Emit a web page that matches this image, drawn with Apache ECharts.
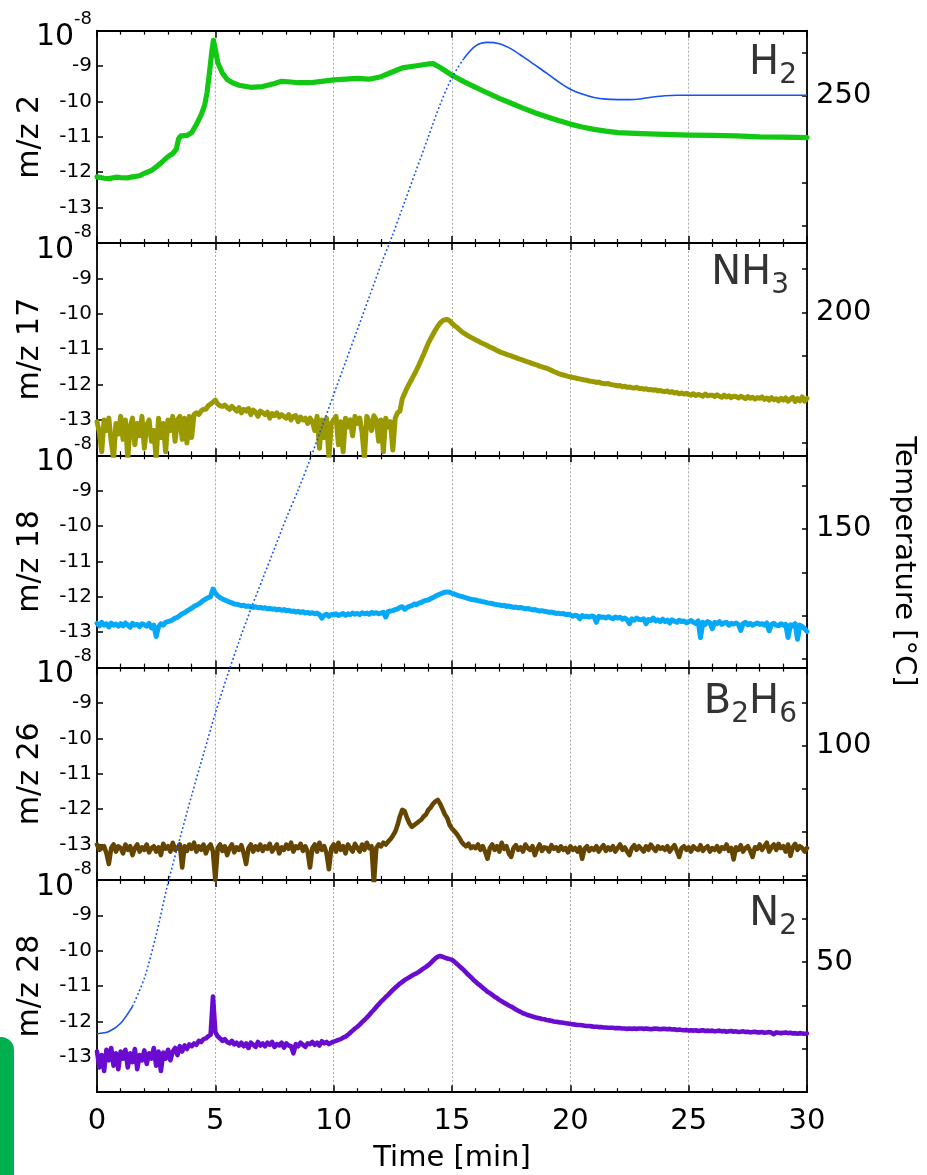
<!DOCTYPE html>
<html>
<head>
<meta charset="utf-8">
<title>TPD mass spectra</title>
<script src="https://cdn.jsdelivr.net/npm/echarts@6/dist/echarts.min.js"></script>
<style>
  html, body { margin: 0; padding: 0; background: #fff; }
  #chart { width: 927px; height: 1175px; }
</style>
</head>
<body>
<div id="chart"></div>
<script>
// Ion currents are stored as log10 of the signal; traces sampled every 0.1 min from t = 0.
const TIME_STEP = 0.1;

// m/z 2 (H2): [time in min, log10 signal]
const mz2 = [
  [0, -12.13], [0.3, -12.17], [0.5, -12.18], [0.8, -12.14], [1.0, -12.15], [1.3, -12.16], [1.5, -12.13],
  [1.8, -12.1], [2.0, -12.03], [2.3, -11.95], [2.5, -11.85], [2.8, -11.68], [3.0, -11.56], [3.2, -11.47],
  [3.35, -11.35], [3.45, -11.05], [3.55, -10.97], [3.8, -10.96], [4.0, -10.88], [4.2, -10.65], [4.4, -10.38],
  [4.55, -10.1], [4.65, -9.75], [4.75, -9.2], [4.85, -8.6], [4.92, -8.27], [4.97, -8.3], [5.02, -8.6],
  [5.1, -8.9], [5.3, -9.2], [5.5, -9.38], [5.75, -9.48], [6.0, -9.54], [6.5, -9.6], [7.0, -9.58],
  [7.5, -9.49], [7.8, -9.43], [8.2, -9.45], [8.5, -9.47], [9.0, -9.47], [9.5, -9.43], [10.0, -9.39],
  [10.5, -9.37], [11.0, -9.35], [11.5, -9.37], [12.0, -9.3], [12.5, -9.16], [12.9, -9.05], [13.5, -8.99],
  [14.0, -8.94], [14.2, -8.93], [14.5, -9.04], [15.0, -9.26], [15.5, -9.44], [16.0, -9.6], [16.5, -9.76],
  [17.0, -9.91], [17.5, -10.05], [18.0, -10.19], [18.5, -10.32], [19.0, -10.43], [19.5, -10.54],
  [20.0, -10.64], [20.5, -10.72], [21.0, -10.79], [21.5, -10.84], [22.0, -10.88], [23.0, -10.91],
  [24.0, -10.93], [25.0, -10.95], [26.0, -10.96], [27.0, -10.97], [28.0, -11.0], [29.0, -11.01], [30.0, -11.02]
];

// m/z 17 (NH3)
const mz17 = [
  -13.05, -13.35, -13.9, -13.0, -13.3, -12.95, -13.6, -14.1, -13.1, -13.4,
  -12.9, -13.55, -13.0, -14.1, -13.2, -12.95, -13.7, -13.1, -13.45, -12.9,
  -13.8, -13.15, -13.0, -13.6, -13.3, -14.1, -12.95, -13.5, -13.1, -13.9,
  -13.0, -13.3, -12.9, -13.6, -13.0, -12.9, -13.55, -12.95, -13.65, -12.9,
  -13.5, -12.85, -12.8, -12.85, -12.75, -12.7, -12.7, -12.6, -12.55, -12.5,
  -12.44, -12.55, -12.6, -12.62, -12.58, -12.65, -12.7, -12.62, -12.68, -12.75,
  -12.65, -12.8, -12.7, -12.75, -12.68, -12.85, -12.72, -12.78, -12.9, -12.75,
  -12.8, -12.85, -12.78, -12.95, -12.82, -12.88, -12.8, -12.92, -12.85, -12.9,
  -12.95, -12.85, -13.0, -12.9, -12.88, -13.05, -12.92, -13.0, -12.95, -13.1,
  -12.95, -13.05, -13.3, -12.9, -13.8, -13.0, -13.5, -12.95, -14.1, -13.1,
  -13.0, -12.9, -13.7, -13.05, -13.9, -12.95, -13.2, -13.0, -13.45, -12.9,
  -13.1, -12.95, -13.35, -14.1, -12.9, -13.05, -13.3, -12.88, -13.0, -13.6,
  -13.0, -13.9, -12.95, -13.2, -13.05, -13.85, -12.95, -12.8, -12.75, -12.4,
  -12.25, -12.1, -11.97, -11.85, -11.72, -11.59, -11.45, -11.3, -11.15, -10.99,
  -10.83, -10.7, -10.58, -10.46, -10.35, -10.26, -10.2, -10.17, -10.16, -10.2,
  -10.27, -10.33, -10.38, -10.44, -10.5, -10.55, -10.59, -10.63, -10.67, -10.7,
  -10.74, -10.77, -10.81, -10.84, -10.87, -10.9, -10.94, -10.97, -11.0, -11.04,
  -11.07, -11.1, -11.12, -11.15, -11.17, -11.19, -11.22, -11.24, -11.27, -11.29,
  -11.31, -11.34, -11.36, -11.38, -11.41, -11.43, -11.45, -11.48, -11.5, -11.52,
  -11.54, -11.57, -11.6, -11.63, -11.66, -11.69, -11.71, -11.73, -11.75, -11.77,
  -11.78, -11.8, -11.81, -11.83, -11.84, -11.86, -11.87, -11.88, -11.9, -11.91,
  -11.92, -11.94, -11.93, -11.96, -11.97, -11.98, -11.97, -12.0, -12.01, -12.02,
  -12.04, -12.03, -12.06, -12.05, -12.08, -12.07, -12.09, -12.1, -12.08, -12.11,
  -12.11, -12.13, -12.12, -12.15, -12.14, -12.16, -12.15, -12.18, -12.17, -12.19,
  -12.2, -12.18, -12.22, -12.2, -12.24, -12.22, -12.26, -12.24, -12.27, -12.25,
  -12.28, -12.3, -12.26, -12.31, -12.28, -12.3, -12.33, -12.27, -12.32, -12.3,
  -12.3, -12.34, -12.29, -12.33, -12.36, -12.3, -12.35, -12.32, -12.37, -12.33,
  -12.34, -12.38, -12.33, -12.36, -12.4, -12.34, -12.39, -12.36, -12.41, -12.37,
  -12.39, -12.35, -12.42, -12.38, -12.44, -12.37, -12.43, -12.4, -12.46, -12.39,
  -12.44, -12.38, -12.47, -12.41, -12.36, -12.48, -12.4, -12.46, -12.35, -12.47,
  -12.39
];

// m/z 18 (H2O)
const mz18 = [
  -12.75, -12.82, -12.72, -12.8, -12.76, -12.85, -12.74, -12.8, -12.77, -12.83,
  -12.76, -12.82, -12.74, -12.8, -12.86, -12.75, -12.8, -12.78, -12.84, -12.76,
  -12.79, -12.83, -12.75, -12.88, -12.8, -13.12, -12.85, -12.76, -12.8, -12.72,
  -12.7, -12.68, -12.65, -12.6, -12.58, -12.53, -12.48, -12.45, -12.4, -12.36,
  -12.32, -12.27, -12.24, -12.2, -12.15, -12.1, -12.06, -12.02, -12.0, -11.78,
  -11.9, -11.97, -12.02, -12.06, -12.09, -12.12, -12.15, -12.17, -12.2, -12.21,
  -12.23, -12.25, -12.24, -12.27, -12.26, -12.28, -12.3, -12.28, -12.31, -12.3,
  -12.32, -12.31, -12.34, -12.33, -12.35, -12.34, -12.37, -12.35, -12.38, -12.36,
  -12.39, -12.38, -12.41, -12.4, -12.43, -12.41, -12.44, -12.42, -12.46, -12.44,
  -12.47, -12.45, -12.48, -12.46, -12.5, -12.6, -12.52, -12.49, -12.55, -12.5,
  -12.51, -12.48, -12.53, -12.5, -12.47, -12.52, -12.48, -12.5, -12.46, -12.49,
  -12.47, -12.5, -12.45, -12.48, -12.46, -12.49, -12.44, -12.47, -12.45, -12.48,
  -12.46, -12.44, -12.57, -12.42, -12.4, -12.39, -12.36, -12.34, -12.3, -12.28,
  -12.35, -12.3, -12.27, -12.25, -12.2, -12.22, -12.18, -12.16, -12.12, -12.1,
  -12.09, -12.05, -12.02, -11.98, -11.95, -11.92, -11.89, -11.87, -11.86, -11.87,
  -11.9, -11.92, -11.95, -11.97, -11.99, -12.01, -12.03, -12.05, -12.07, -12.08,
  -12.09, -12.11, -12.12, -12.14, -12.15, -12.17, -12.18, -12.19, -12.21, -12.22,
  -12.23, -12.25, -12.24, -12.27, -12.26, -12.28, -12.3, -12.29, -12.31, -12.3,
  -12.32, -12.34, -12.33, -12.35, -12.37, -12.36, -12.38, -12.4, -12.39, -12.41,
  -12.42, -12.44, -12.43, -12.45, -12.47, -12.46, -12.48, -12.47, -12.5, -12.49,
  -12.51, -12.55, -12.52, -12.54, -12.62, -12.53, -12.56, -12.55, -12.57, -12.54,
  -12.56, -12.72, -12.55, -12.58, -12.57, -12.6, -12.56, -12.59, -12.62, -12.57,
  -12.6, -12.58, -12.63, -12.6, -12.65, -12.76, -12.62, -12.66, -12.6, -12.64,
  -12.65, -12.62, -12.76, -12.64, -12.67, -12.6, -12.68, -12.65, -12.7, -12.63,
  -12.7, -12.66, -12.74, -12.65, -12.69, -12.72, -12.66, -12.7, -12.68, -12.73,
  -12.7, -12.67, -12.72, -12.75, -12.68, -13.15, -12.72, -12.78, -12.7, -12.74,
  -12.9, -12.72, -12.76, -12.7, -12.78, -12.74, -12.72, -12.8, -12.75, -12.77,
  -12.74, -12.78, -12.95, -12.76, -12.72, -12.79, -12.75, -12.8, -12.77, -12.74,
  -12.78, -12.76, -12.8, -12.74, -12.96, -12.78, -12.75, -12.8, -12.82, -12.76,
  -12.8, -12.78, -13.15, -12.79, -12.82, -12.76, -13.2, -12.8, -12.84, -12.9,
  -12.98
];

// m/z 26 (B2H6)
const mz26 = [
  -13.0, -13.15, -13.1, -13.05, -13.25, -13.55, -13.1, -13.0, -13.2, -13.05,
  -13.1, -13.25, -13.0, -13.15, -13.05, -13.3, -13.1, -13.0, -13.2, -13.08,
  -13.15, -13.0, -13.22, -13.1, -13.05, -13.2, -13.08, -13.3, -12.98, -13.12,
  -13.05, -13.2, -12.95, -13.15, -13.1, -13.0, -13.65, -13.05, -13.18, -13.0,
  -13.12, -12.95, -13.2, -13.05, -13.15, -13.0, -13.25, -13.08, -13.0, -13.2,
  -14.0, -13.1, -13.0, -13.18, -13.05, -13.3, -13.1, -13.0, -13.22, -13.08,
  -13.15, -13.02, -13.25, -13.55, -13.1, -13.0, -13.2, -13.05, -13.15, -13.0,
  -13.18, -13.05, -13.12, -12.98, -13.2, -13.1, -13.0, -13.25, -13.08, -13.15,
  -13.0, -13.12, -12.95, -13.2, -13.05, -13.1, -12.98, -13.18, -13.05, -13.2,
  -13.65, -13.1, -13.0, -13.2, -12.95, -13.15, -13.05, -13.25, -13.7, -13.1,
  -13.0, -13.2, -12.95, -13.15, -13.05, -13.25, -13.0, -13.1, -13.2, -12.98,
  -13.1, -13.2, -13.0, -13.15, -12.95, -13.1, -13.05, -14.1, -13.1, -13.0,
  -13.05, -12.95, -13.0, -12.92, -12.85, -12.75, -12.64, -12.45, -12.2, -12.02,
  -12.06, -12.25, -12.4, -12.5, -12.45, -12.4, -12.35, -12.3, -12.21, -12.15,
  -12.02, -11.95, -11.85, -11.78, -11.74, -11.85, -12.0, -12.15, -12.25, -12.45,
  -12.55, -12.62, -12.7, -12.8, -12.92, -13.0, -13.05, -12.98, -13.1, -13.05,
  -13.1, -13.0, -13.15, -13.05, -13.2, -13.4, -13.1, -13.0, -13.15, -13.05,
  -13.2, -12.95, -13.12, -13.05, -13.25, -13.35, -13.1, -13.02, -13.15, -13.08,
  -13.2, -13.0, -13.1, -13.15, -13.05, -13.3, -13.12, -13.0, -13.18, -13.08,
  -13.1, -13.2, -13.02, -13.12, -13.08, -13.18, -13.05, -13.15, -13.1, -13.22,
  -13.05, -13.15, -13.1, -13.2, -13.08, -13.4, -13.12, -13.05, -13.18, -13.1,
  -13.15, -13.05, -13.2, -13.1, -13.02, -13.18, -13.08, -13.15, -13.05, -13.2,
  -13.1, -13.0, -13.15, -13.08, -13.2, -13.3, -13.1, -13.02, -13.15, -13.05,
  -13.12, -13.2, -13.05, -13.15, -13.0, -13.1, -13.18, -13.05, -13.12, -13.08,
  -13.15, -13.05, -13.2, -13.1, -13.02, -13.18, -13.35, -13.1, -13.05, -13.15,
  -13.08, -13.2, -13.05, -13.12, -13.15, -13.02, -13.18, -13.1, -13.05, -13.2,
  -13.1, -13.15, -13.05, -13.2, -13.08, -13.12, -13.0, -13.18, -13.1, -13.42,
  -13.08, -13.15, -13.02, -13.2, -13.1, -13.05, -13.18, -13.35, -13.08, -13.12,
  -13.0, -13.15, -13.05, -12.95, -13.2, -13.08, -13.0, -13.15, -12.98, -13.1,
  -13.05, -13.2, -13.0, -13.32, -13.08, -12.98, -13.15, -13.05, -13.1, -13.2,
  -13.1
];

// m/z 28 (N2)
const mz28 = [
  -12.85, -13.3, -12.95, -13.4, -12.8, -13.1, -12.75, -13.25, -12.9, -13.35,
  -12.85, -13.05, -12.8, -13.3, -12.9, -13.15, -12.78, -13.35, -12.95, -13.1,
  -12.82, -13.2, -12.9, -13.05, -12.75, -13.25, -12.85, -13.4, -12.88, -13.05,
  -12.8, -13.1, -12.85, -12.75, -12.95, -12.7, -12.85, -12.68, -12.78, -12.65,
  -12.7, -12.62, -12.66, -12.55, -12.58, -12.5, -12.48, -12.42, -12.38, -11.3,
  -12.3, -12.42, -12.48, -12.55, -12.5, -12.58, -12.62, -12.55, -12.65, -12.6,
  -12.68, -12.6, -12.7, -12.62, -12.75, -12.6, -12.66, -12.72, -12.58, -12.68,
  -12.62, -12.7, -12.6, -12.66, -12.58, -12.72, -12.64, -12.68, -12.6, -12.74,
  -12.62, -12.68, -12.7, -12.9, -12.64, -12.7, -12.6, -12.66, -12.72, -12.62,
  -12.64, -12.58, -12.66, -12.6, -12.68, -12.56, -12.62, -12.58, -12.64, -12.6,
  -12.57, -12.55, -12.52, -12.5, -12.46, -12.43, -12.38, -12.32, -12.26, -12.2,
  -12.15, -12.09, -12.02, -11.96, -11.89, -11.82, -11.74, -11.67, -11.59, -11.52,
  -11.44, -11.38, -11.31, -11.25, -11.18, -11.11, -11.05, -10.99, -10.93, -10.88,
  -10.83, -10.79, -10.75, -10.71, -10.67, -10.64, -10.6, -10.55, -10.5, -10.46,
  -10.41, -10.35, -10.28, -10.22, -10.17, -10.15, -10.17, -10.2, -10.22, -10.24,
  -10.26, -10.31, -10.37, -10.43, -10.49, -10.55, -10.62, -10.69, -10.75, -10.82,
  -10.88, -10.94, -10.99, -11.05, -11.1, -11.16, -11.2, -11.25, -11.3, -11.34,
  -11.39, -11.43, -11.47, -11.51, -11.55, -11.58, -11.62, -11.66, -11.7, -11.73,
  -11.77, -11.79, -11.82, -11.84, -11.86, -11.88, -11.9, -11.91, -11.93, -11.94,
  -11.96, -11.97, -11.98, -12.0, -12.01, -12.02, -12.03, -12.04, -12.05, -12.06,
  -12.07, -12.08, -12.09, -12.1, -12.1, -12.11, -12.12, -12.13, -12.13, -12.14,
  -12.15, -12.15, -12.16, -12.16, -12.17, -12.17, -12.18, -12.18, -12.18, -12.19,
  -12.19, -12.19, -12.2, -12.2, -12.21, -12.2, -12.21, -12.2, -12.21, -12.2,
  -12.2, -12.21, -12.2, -12.21, -12.22, -12.21, -12.2, -12.21, -12.22, -12.21,
  -12.21, -12.22, -12.21, -12.23, -12.22, -12.24, -12.23, -12.24, -12.25, -12.24,
  -12.26, -12.25, -12.26, -12.25, -12.27, -12.26, -12.25, -12.27, -12.26, -12.27,
  -12.26, -12.28, -12.27, -12.26, -12.28, -12.27, -12.29, -12.28, -12.27, -12.29,
  -12.28, -12.3, -12.29, -12.28, -12.3, -12.29, -12.31, -12.3, -12.29, -12.31,
  -12.31, -12.3, -12.32, -12.31, -12.3, -12.32, -12.36, -12.31, -12.32, -12.33,
  -12.32, -12.31, -12.33, -12.32, -12.34, -12.33, -12.35, -12.33, -12.34, -12.35,
  -12.34
];

// Sample temperature, °C, every 0.5 min from t = 0
const TEMP_STEP = 0.5;
const tempC = [
  33.5, 34.0, 35.9, 39.8, 46.3, 56.3, 68.3, 78.5, 88.5, 98.0,
  107.5, 116.0, 124.0, 131.5, 138.5, 145.5, 152.5, 159.0, 166.0, 173.5,
  181.0, 188.5, 196.0, 203.5, 211.0, 218.0, 225.5, 233.0, 240.5, 248.0,
  254.2, 258.6, 261.5, 262.3, 262.0, 260.8, 259.0, 257.1, 255.2, 253.2,
  251.5, 250.4, 249.6, 249.2, 249.1, 249.1, 249.3, 249.7, 250.0, 250.1,
  250.1, 250.1, 250.1, 250.1, 250.1, 250.1, 250.1, 250.1, 250.1, 250.1, 250.1
];

// Panel definitions: axis title, gas label (rich text) and trace colour
const panelNames = ['m/z 2', 'm/z 17', 'm/z 18', 'm/z 26', 'm/z 28'];
const gasLabels = ['{m|H}{s|2}', '{m|NH}{s|3}', '', '{m|B}{s|2}{m|H}{s|6}', '{m|N}{s|2}'];
const traceColors = ['#12c812', '#9a9a00', '#05a9f7', '#654500', '#6a0ccf'];
const traceWidths = [5.2, 5, 5, 4.6, 4.6];

const FONT = 'DejaVu Sans';
const PLOT_LEFT = 97;
const PLOT_RIGHT = 120;
const PLOT_TOP = 30.7;
const PANEL_H = 212.3;

const toLinear = e => Math.pow(10, e);
const sampled = arr => arr.map((e, i) => [+(i * TIME_STEP).toFixed(2), toLinear(e)]);
const traces = [
  mz2.map(([t, e]) => [t, toLinear(e)]),
  sampled(mz17),
  sampled(mz18),
  sampled(mz26),
  sampled(mz28)
];
const tempData = tempC.map((v, i) => [i * TEMP_STEP, v]);

const grids = [];
const xAxes = [];
const yAxes = [];
const series = [];

const tickStyle = { color: '#000', width: 1.5 };
const axisLineStyle = { color: '#000', width: 1.8 };
const gridLineStyle = { color: '#ababab', width: 1, type: [2, 2] };
const gridBox = { left: PLOT_LEFT, right: PLOT_RIGHT, containLabel: false, outerBoundsMode: 'none' };

panelNames.forEach((name, i) => {
  const isLast = i === panelNames.length - 1;
  grids.push(Object.assign({ top: PLOT_TOP + i * PANEL_H, height: PANEL_H }, gridBox));

  // bottom time axis (labels only on the lowest panel)
  xAxes.push({
    type: 'value', gridIndex: i, position: 'bottom', min: 0, max: 30, interval: 5,
    axisLine: { onZero: false, lineStyle: axisLineStyle },
    axisTick: { inside: true, length: 7, lineStyle: tickStyle },
    minorTick: { show: true, splitNumber: 5, length: 4, lineStyle: { color: '#000', width: 1.2 } },
    splitLine: { show: true, lineStyle: gridLineStyle },
    axisLabel: { show: isLast, fontFamily: FONT, fontSize: 29, color: '#000', margin: 15 },
    name: isLast ? 'Time [min]' : '',
    nameLocation: 'middle', nameGap: 52,
    nameTextStyle: { fontFamily: FONT, fontSize: 29, color: '#000' }
  });
  // top time axis: ticks only
  xAxes.push({
    type: 'value', gridIndex: i, position: 'top', min: 0, max: 30, interval: 5,
    axisLine: { onZero: false, lineStyle: axisLineStyle },
    axisTick: { inside: true, length: 7, lineStyle: tickStyle },
    minorTick: { show: true, splitNumber: 5, length: 4, lineStyle: { color: '#000', width: 1.2 } },
    splitLine: { show: false },
    axisLabel: { show: false }
  });

  yAxes.push({
    type: 'log', logBase: 10, gridIndex: i, position: 'left',
    min: 1e-14, max: 1e-8, splitNumber: 6,
    axisLine: { show: true, onZero: false, lineStyle: axisLineStyle },
    axisTick: { show: true, inside: true, length: 6, lineStyle: tickStyle },
    splitLine: { show: false },
    axisLabel: {
      showMinLabel: true, showMaxLabel: true, margin: 5,
      fontFamily: FONT, fontSize: 20, color: '#000',
      formatter: v => {
        const e = Math.round(Math.log10(v));
        if (e >= -8) return '{b|10}{e|' + e + '}';
        if (e <= -14) return '';
        return '{n|' + e + '}';
      },
      rich: {
        b: { fontFamily: FONT, fontSize: 30, color: '#000', padding: [14, 0, 0, 0] },
        e: { fontFamily: FONT, fontSize: 18, color: '#000', padding: [0, 0, 22, 0] },
        n: { fontFamily: FONT, fontSize: 20, color: '#000' }
      }
    },
    name: name, nameLocation: 'middle', nameGap: 52, nameRotate: 90, nameMoveOverlap: false,
    nameTextStyle: { fontFamily: FONT, fontSize: 30, color: '#000' }
  });

  series.push({
    type: 'line', name: name, xAxisIndex: 2 * i, yAxisIndex: i,
    data: traces[i], showSymbol: false, symbol: 'none', clip: true,
    lineStyle: { color: traceColors[i], width: traceWidths[i], join: 'round', cap: 'round' },
    z: 3
  });
});

// Full-height overlay for the temperature ramp on the right-hand axis
const TEMP_GRID = panelNames.length;
grids.push(Object.assign({ top: PLOT_TOP, height: PANEL_H * panelNames.length }, gridBox));
xAxes.push({ type: 'value', gridIndex: TEMP_GRID, min: 0, max: 30, show: false });
yAxes.push({
  type: 'value', gridIndex: TEMP_GRID, position: 'right', min: 20, max: 265, interval: 10,
  axisLine: { show: true, onZero: false, lineStyle: axisLineStyle },
  axisTick: { show: true, inside: true, length: 5, lineStyle: tickStyle },
  splitLine: { show: false },
  axisLabel: {
    margin: 9, fontFamily: FONT, fontSize: 29, color: '#000',
    formatter: v => (v % 50 === 0 ? String(v) : '')
  },
  name: 'Temperature [°C]', nameLocation: 'middle', nameGap: 82, nameRotate: -90,
  nameTextStyle: { fontFamily: FONT, fontSize: 29, color: '#000' }
});

// Steep part of the ramp is drawn as a dotted trace, flat parts solid
const tempSegments = [
  { from: 0, to: 3, dash: 'solid' },
  { from: 3, to: 31, dash: [1.8, 2.4] },
  { from: 31, to: tempData.length - 1, dash: 'solid' }
];
tempSegments.forEach(seg => {
  series.push({
    type: 'line', name: 'Temperature', xAxisIndex: xAxes.length - 1, yAxisIndex: TEMP_GRID,
    data: tempData.slice(seg.from, seg.to + 1), smooth: 0.3, showSymbol: false, symbol: 'none',
    lineStyle: { color: '#1452f5', width: 1.6, type: seg.dash }, z: 5
  });
});

// Gas labels in the upper-right corner of each panel
const labelOffsets = [32.8, 31, 0, 34.8, 35];
const labelRight = [797, 789, 797, 797, 797];
const graphics = [];
gasLabels.forEach((txt, i) => {
  if (!txt) return;
  graphics.push({
    type: 'text', x: labelRight[i], y: PLOT_TOP + i * PANEL_H + labelOffsets[i], z: 10,
    style: {
      text: txt, align: 'right', verticalAlign: 'middle', fill: '#333',
      rich: {
        m: { fontFamily: FONT, fontSize: 40, fill: '#333' },
        s: { fontFamily: FONT, fontSize: 28, fill: '#333', padding: [24, 0, 0, 0] }
      }
    }
  });
});
// green tab at the lower-left page edge
graphics.push({
  type: 'rect', z: 10,
  shape: { x: -20, y: 1037, width: 34, height: 160, r: 13 },
  style: { fill: '#00b04f' }
});

const chart = echarts.init(document.getElementById('chart'), null, { renderer: 'canvas' });
chart.setOption({
  animation: false,
  backgroundColor: '#fff',
  grid: grids,
  xAxis: xAxes,
  yAxis: yAxes,
  series: series,
  graphic: graphics
});
</script>
</body>
</html>
